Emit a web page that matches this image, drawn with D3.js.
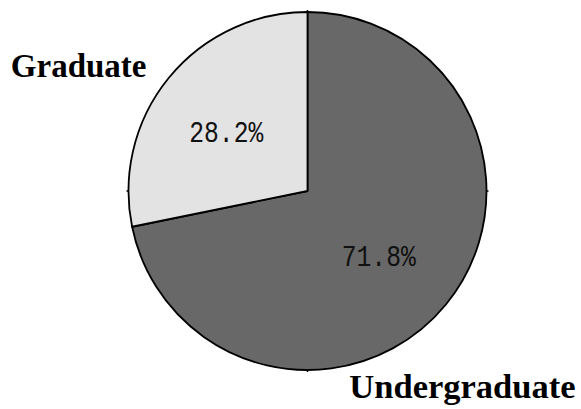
<!DOCTYPE html>
<html><head><meta charset="utf-8">
<script src="https://cdn.jsdelivr.net/npm/d3@7/dist/d3.min.js"></script>
<style>html,body{margin:0;padding:0;background:#fff;}svg{display:block;}</style>
</head><body>
<script>
const categories = ["Undergraduate", "Graduate"];
const values = [71.8, 28.2];
const colors = ["#686868", "#e3e3e3"];
const percentLabels = ["71.8%", "28.2%"];

const W = 581, H = 409;
const cx = 307.5, cy = 191, R = 179;

const svg = d3.select("body").append("svg").attr("width", W).attr("height", H);
const g = svg.append("g").attr("transform", `translate(${cx},${cy})`);

const pie = d3.pie().sort(null).value(d => d.v).startAngle(0).endAngle(2 * Math.PI);
const data = categories.map((c, i) => ({c, v: values[i], col: colors[i], lab: percentLabels[i]}));
const arcs = pie(data);

const arc = d3.arc().innerRadius(0).outerRadius(R);
const labelArc = d3.arc().innerRadius(R * 0.55).outerRadius(R * 0.55);

g.selectAll("path.slice").data(arcs).enter().append("path")
  .attr("class", "slice")
  .attr("d", arc)
  .attr("fill", d => d.data.col)
  .attr("stroke", "#000")
  .attr("stroke-width", 1.8)
  .attr("stroke-linejoin", "round");

// small tick marks at cardinal points
const tickAngles = [0, Math.PI / 2, Math.PI, 3 * Math.PI / 2];
g.selectAll("line.tick").data(tickAngles).enter().append("line")
  .attr("x1", a => Math.sin(a) * R).attr("y1", a => -Math.cos(a) * R)
  .attr("x2", a => Math.sin(a) * (R + 2)).attr("y2", a => -Math.cos(a) * (R + 2))
  .attr("stroke", "#000").attr("stroke-width", 1.5);

g.selectAll("text.pct").data(arcs).enter().append("text")
  .attr("class", "pct")
  .attr("transform", d => { const [x, y] = labelArc.centroid(d); return `translate(${x - 5},${y + 2.5}) scale(0.95,1.15)`; })
  .attr("text-anchor", "middle")
  .attr("dy", "0.35em")
  .attr("font-family", "'Liberation Mono', 'DejaVu Sans Mono', monospace")
  .attr("font-size", 26)
  .attr("fill", "#111")
  .text(d => d.data.lab);

// category labels
svg.append("text")
  .attr("x", cx - 161).attr("y", cy - 114)
  .attr("text-anchor", "end")
  .attr("font-family", "'Liberation Serif', 'Times New Roman', serif")
  .attr("font-weight", "bold")
  .attr("font-size", 33)
  .attr("fill", "#000")
  .text(categories[1]);

svg.append("text")
  .attr("x", cx + 268).attr("y", cy + 207)
  .attr("text-anchor", "end")
  .attr("font-family", "'Liberation Serif', 'Times New Roman', serif")
  .attr("font-weight", "bold")
  .attr("font-size", 34.5)
  .attr("fill", "#000")
  .text(categories[0]);
</script>
</body></html>
